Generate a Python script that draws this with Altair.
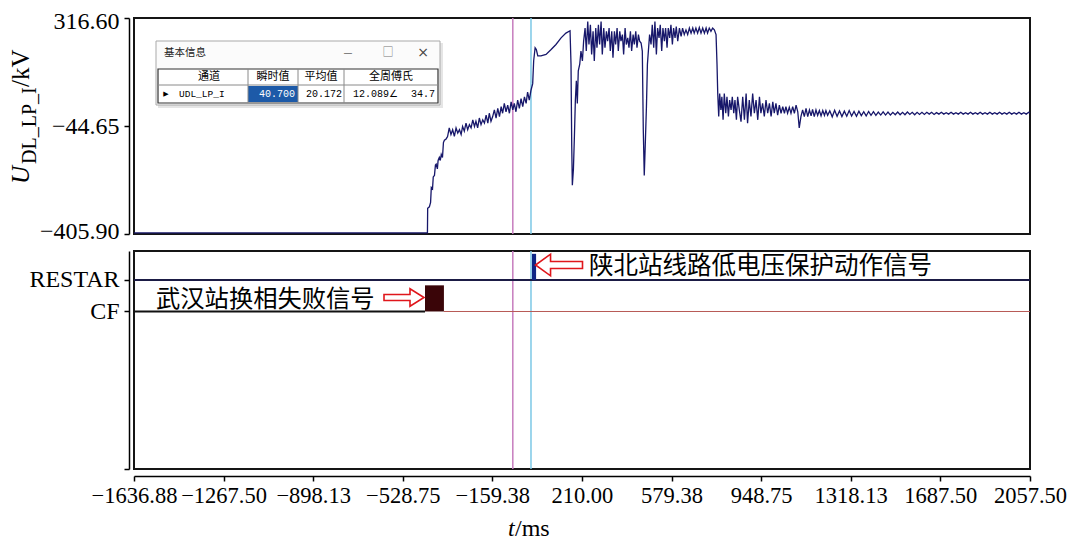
import altair as alt
import pandas as pd

# ------------------------------------------------------------------ data
T_MIN, T_MAX = -1636.88, 2057.50
X_TICKS = [-1636.88, -1267.50, -898.13, -528.75, -159.38, 210.00,
           579.38, 948.75, 1318.13, 1687.50, 2057.50]
V_MIN, V_MAX = -405.90, 316.60
Y_TICKS = [-405.90, -44.65, 316.60]

# waveform U_DL_LP_I (kV), segment by segment
PRE_T = [-1636.88, -427, -426, -419, -414, -411, -406, -403, -398, -394, -391,
         -386, -383, -378, -374, -370, -365, -361, -357, -350, -344, -337]
PRE_V = [-402, -402, -320, -315, -300, -250, -255, -215, -210, -175, -172,
         -188, -160, -150, -160, -140, -150, -100, -92, -88, -80, -51]

RISE_T = [-330, -323, -316, -309, -302, -295, -288, -282, -275, -268, -261, -254,
          -247, -240, -233, -227, -220, -213, -206, -199, -192, -185, -178, -172,
          -165, -158, -151, -144, -137, -130, -123, -117, -110, -103, -96, -89,
          -82, -75, -69, -62, -55, -48, -41, -34, -27, -20, -14, -7, 0]
RISE_V = [-73, -57, -79, -51, -68, -57, -73, -46, -62, -35, -57, -40,
          -51, -24, -46, -29, -51, -18, -40, -24, -35, -8, -35, -2,
          -29, -13, 9, -18, 14, -13, 20, -2, 31, 3, 25, -2,
          36, 9, 31, 3, 42, 14, 47, 20, 53, 31, 69, 42, 75]

DIP1_T = [7, 11, 17, 22, 28, 41, 62, 83, 103, 124, 144, 161, 165, 168, 170.5,
          175, 179, 183, 187, 191, 195, 201, 206, 212, 217, 223, 228, 234]
DIP1_V = [97, 173, 217, 211, 190, 190, 195, 211, 228, 250, 266, 274, 162, -112, -243,
          -188, -79, 42, 107, 31, 140, 162, 206, 173, 239, 283, 206, 305]

PLAT1_T = [239, 245, 250, 256, 261, 267, 272, 278, 283, 289, 294, 300, 305, 311,
           316, 322, 327, 333, 338, 344, 349, 355, 360, 366, 371, 377, 382, 388,
           393, 399, 404, 410, 415, 421, 426, 432, 437, 443, 448, 454, 459]
PLAT1_V = [228, 294, 195, 272, 173, 283, 217, 294, 228, 305, 195, 283, 217, 272,
           239, 283, 206, 272, 184, 272, 228, 283, 206, 272, 239, 261, 195, 283,
           228, 250, 217, 272, 206, 261, 228, 272, 217, 261, 239, 233, 206]

PLAT2_T = [463, 467, 471, 476, 480, 484, 489, 495, 500, 506, 511, 517, 522, 528,
           533, 539, 544, 550, 555, 561, 566, 572, 577, 583, 588, 594, 599, 605,
           612, 619, 625, 632, 639, 646, 653, 660, 667, 673, 680, 687, 694, 701,
           708, 715, 722, 728, 735, 742, 749, 756, 763]
PLAT2_V = [-57, -210, -112, 20, 162, 206, 261, 228, 294, 217, 305, 195, 283, 250,
           294, 206, 283, 239, 283, 217, 283, 250, 294, 228, 283, 250, 288, 239,
           283, 255, 283, 261, 277, 261, 283, 266, 283, 266, 283, 266, 285, 266,
           283, 266, 283, 266, 283, 272, 283, 277, 261]

DROP_T = [767, 770, 774, 778, 783, 787, 792, 797, 803, 808, 814, 819, 825, 830,
          836, 841, 847, 852, 859, 866, 873, 880, 887, 893, 900, 907, 914, 921,
          928, 935, 942, 948, 955, 962, 969, 976, 983, 990, 997, 1003, 1010, 1017,
          1024, 1031, 1038, 1045, 1051, 1058, 1065, 1072, 1079, 1086, 1093, 1100,
          1106, 1113, 1120, 1127, 1134, 1141, 1148, 1155, 1161, 1168, 1175, 1182,
          1189, 1196, 1203, 1210, 1216, 1223]
DROP_V = [162, 64, -13, 64, 9, 53, -24, 64, -2, 53, -13, 42, 9, 53,
          -2, 42, -24, 53, 9, -30, 53, -24, 64, -35, 42, -13, 64, -2,
          42, -24, 53, -2, 31, -13, 42, -2, 31, -13, 36, -2, 31, -8,
          25, -2, 20, -2, 20, -2, 18, -2, 20, -2, 25, 3,
          -51, -13, 9, -13, 14, -13, 9, -11, 11, -13, 9, -9,
          7, -11, 7, -9, 7, -9]

TAIL_T = [1232, 1242, 1252, 1262, 1272, 1282, 1292, 1302, 1312, 1322, 1332, 1342,
          1352, 1362, 1372, 1382, 1392, 1402, 1412, 1422, 1432, 1442, 1452, 1462,
          1472, 1482, 1492, 1502, 1512, 1522, 1532, 1542, 1552, 1562, 1572, 1582,
          1592, 1602, 1612, 1622, 1632, 1642, 1652, 1662, 1672, 1682, 1692, 1702,
          1712, 1722, 1732, 1742, 1752, 1762, 1772, 1782, 1792, 1802, 1812, 1822,
          1832, 1842, 1852, 1862, 1872, 1882, 1892, 1902, 1912, 1922, 1932, 1942,
          1952, 1962, 1972, 1982, 1992, 2002, 2012, 2022, 2032, 2042, 2052, 2057.5]
TAIL_V = [6, -14, 8, -12, 6, -13, 5, -12, 7, -11, 4, -12,
          5, -10, 3, -11, 4, -9, 3, -9, 2, -8, 3, -8,
          2, -8, 1, -7, 2, -7, 1, -7, 2, -6, 1, -7,
          1, -6, 1, -6, 1, -5, 1, -6, 0, -5, 1, -5,
          0, -5, 1, -5, 0, -5, 1, -5, 0, -5, 1, -5,
          0, -5, 1, -5, 0, -5, 1, -5, 0, -5, 1, -5,
          0, -5, 1, -5, 0, -5, 1, -5, 0, -5, 1, -2]

WAVE_T = PRE_T + RISE_T + DIP1_T + PLAT1_T + PLAT2_T + DROP_T + TAIL_T
WAVE_V = PRE_V + RISE_V + DIP1_V + PLAT1_V + PLAT2_V + DROP_V + TAIL_V
assert len(WAVE_T) == len(WAVE_V)

CURSOR_T = [-75.0, 0.0]

CH_RESTAR, CH_CF = 6, 5
CH_DOMAIN = [0, 6.92]
CH_TICKS = [0, 5, 6]
PULSE_HIGH = 0.83
CF_ON, CF_OFF = -437.0, -359.0
RESTAR_ON, RESTAR_OFF = 4.0, 21.0

LABEL_CF = "武汉站换相失败信号"
LABEL_RESTAR = "陕北站线路低电压保护动作信号"

INSET_TITLE = "基本信息"
INSET_HEAD = ["通道", "瞬时值", "平均值", "全周傅氏"]
INSET_CHANNEL = "UDL_LP_I"
INSET_INST = "40.700"
INSET_MEAN = "20.172"
INSET_FOURIER_MAG = "12.089∠"
INSET_FOURIER_ANG = "34.7"

# ------------------------------------------------------------------ style
SERIF = "Liberation Serif"
CJK = "Noto Sans CJK SC"
MONO = "Liberation Mono"
NAVY = "#17176a"
MAGENTA = "#c77dbe"
CYAN = "#7cc8e6"
RED = "#e0161b"

W = 896
H_TOP = 216
H_BOT = 218

wave_df = pd.DataFrame({"t": WAVE_T, "v": WAVE_V})
cursor_df = pd.DataFrame({"t": CURSOR_T, "c": ["a", "b"]})
ONE = pd.DataFrame({"k": [0]})

XS = alt.Scale(domain=[T_MIN, T_MAX], nice=False, zero=False)
YS_TOP = alt.Scale(domain=[V_MIN, V_MAX], nice=False, zero=False)
YS_BOT = alt.Scale(domain=CH_DOMAIN, nice=False, zero=False)

X_AXIS_B = alt.Axis(values=X_TICKS, format=".2f", labelOverlap=False, labelFlush=False,
                    offset=7, tickSize=5, labelPadding=3, title=None, grid=False,
                    labelFontSize=22.5)
Y_AXIS_T = alt.Axis(values=Y_TICKS, format=".2f", offset=5, tickSize=5, labelPadding=5,
                    title=None, grid=False,
                    labelOffset={"condition": [{"test": "datum.value > 300", "value": 3},
                                               {"test": "datum.value < -400", "value": -3}],
                                 "value": 0})
Y_AXIS_B = alt.Axis(values=CH_TICKS, offset=5, tickSize=5, labelPadding=5, title=None,
                    grid=False,
                    labelExpr="datum.value == 6 ? 'RESTAR' : datum.value == 5 ? 'CF' : ''")


def text_at(s, x, y, size, font=SERIF, align="left", baseline="middle", color="black",
            angle=None, style=None, weight=None):
    kw = dict(text=s, align=align, baseline=baseline, fontSize=size, font=font, color=color)
    if angle is not None:
        kw["angle"] = angle
    if style:
        kw["fontStyle"] = style
    if weight:
        kw["fontWeight"] = weight
    return alt.Chart(ONE).mark_text(**kw).encode(x=alt.value(x), y=alt.value(y))


def box(x1, y1, x2, y2, fill, stroke=None, sw=1.0, opacity=1.0):
    kw = dict(fill=fill, opacity=opacity)
    if stroke:
        kw.update(stroke=stroke, strokeWidth=sw)
    return alt.Chart(ONE).mark_rect(**kw).encode(
        x=alt.value(x1), x2=alt.value(x2), y=alt.value(y1), y2=alt.value(y2))


def seg(x1, y1, x2, y2, color, sw=1.0):
    return alt.Chart(ONE).mark_rule(color=color, strokeWidth=sw).encode(
        x=alt.value(x1), x2=alt.value(x2), y=alt.value(y1), y2=alt.value(y2))


ARROW_R = "M-1,-0.15L0.3,-0.15L0.3,-0.44L1,0L0.3,0.44L0.3,0.15L-1,0.15Z"
ARROW_L = "M1,-0.15L-0.36,-0.15L-0.36,-0.46L-1,0L-0.36,0.46L-0.36,0.15L1,0.15Z"


def arrow(path, x, y, w):
    return alt.Chart(ONE).mark_point(shape=path, size=w * w, filled=True, fill="white",
                                     stroke=RED, strokeWidth=1.6, opacity=1).encode(
        x=alt.value(x), y=alt.value(y))


# ------------------------------------------------------------------ top panel
cursors_top = alt.Chart(cursor_df).mark_rule(strokeWidth=1.5).encode(
    x=alt.X("t:Q", scale=XS, axis=None),
    color=alt.Color("c:N", scale=alt.Scale(range=[MAGENTA, CYAN]), legend=None))

wave = alt.Chart(wave_df).mark_line(color=NAVY, strokeWidth=1.3).encode(
    x=alt.X("t:Q", scale=XS, axis=None),
    y=alt.Y("v:Q", scale=YS_TOP, axis=Y_AXIS_T))

# inset dialog (screenshot of the recorder window)
inset = [
    box(24, 25, 309, 90, "#cfcfcf", opacity=0.55),
    box(22, 23, 306, 87, "#fbfbfb", stroke="#a9a9a9", sw=1),
    text_at(INSET_TITLE, 30, 35, 10.5, font=CJK, color="#222"),
    text_at("—", 214, 35, 10, font=CJK, align="center", color="#666"),
    text_at("□", 254, 35, 11, font=CJK, align="center", color="#777"),
    text_at("×", 289, 35, 14, font="DejaVu Sans", align="center", color="#444"),
    box(24, 51, 304, 85, "white", stroke="#333", sw=1.2),
    box(114, 68, 164, 84, "#1d5aa8"),
    seg(24, 67, 304, 67, "#8a8a8a", 1),
    seg(114, 51, 114, 85, "#8a8a8a", 1),
    seg(164, 51, 164, 85, "#8a8a8a", 1),
    seg(210, 51, 210, 85, "#8a8a8a", 1),
    text_at(INSET_HEAD[0], 75, 59, 11, font=CJK, align="center"),
    text_at(INSET_HEAD[1], 139, 59, 11, font=CJK, align="center"),
    text_at(INSET_HEAD[2], 187, 59, 11, font=CJK, align="center"),
    text_at(INSET_HEAD[3], 257, 59, 11, font=CJK, align="center"),
    text_at("▶", 32, 76, 7, font="DejaVu Sans", align="center"),
    text_at(INSET_CHANNEL, 45, 76, 9.5, font=MONO),
    text_at(INSET_INST, 161, 76, 10, font=MONO, align="right", color="white"),
    text_at(INSET_MEAN, 208, 76, 10, font=MONO, align="right"),
    text_at(INSET_FOURIER_MAG, 219, 76, 10, font=MONO),
    text_at(INSET_FOURIER_ANG, 301, 76, 10, font=MONO, align="right"),
]

ytitle = [
    text_at("U", -105, 166, 25, angle=270, baseline="alphabetic", style="italic"),
    text_at("DL_LP_I", -98, 146, 20, angle=270, baseline="alphabetic"),
    text_at("/kV", -105, 69, 25, angle=270, baseline="alphabetic"),
]

top = alt.layer(cursors_top, wave, *inset, *ytitle).properties(width=W, height=H_TOP)

# ------------------------------------------------------------------ bottom panel
cursors_bot = alt.Chart(cursor_df).mark_rule(strokeWidth=1.5).encode(
    x=alt.X("t:Q", scale=XS, axis=X_AXIS_B),
    color=alt.Color("c:N", scale=alt.Scale(range=[MAGENTA, CYAN]), legend=None))


def hline(t0, t1, lvl, color, sw):
    df = pd.DataFrame({"t0": [t0], "t1": [t1], "lvl": [lvl]})
    return alt.Chart(df).mark_rule(color=color, strokeWidth=sw).encode(
        x=alt.X("t0:Q", scale=XS, axis=X_AXIS_B), x2="t1:Q",
        y=alt.Y("lvl:Q", scale=YS_BOT, axis=Y_AXIS_B))


def pulse(t0, t1, lvl, color):
    df = pd.DataFrame({"t0": [t0], "t1": [t1], "lo": [lvl], "hi": [lvl + PULSE_HIGH]})
    return alt.Chart(df).mark_rect(color=color).encode(
        x=alt.X("t0:Q", scale=XS, axis=X_AXIS_B), x2="t1:Q",
        y=alt.Y("lo:Q", scale=YS_BOT, axis=Y_AXIS_B), y2="hi:Q")


restar_line = hline(T_MIN, T_MAX, CH_RESTAR, "#1b1b45", 2)
cf_line_a = hline(T_MIN, CF_ON, CH_CF, "#111111", 2)
cf_line_b = hline(CF_OFF, T_MAX, CH_CF, "#b85a55", 1)
cf_pulse = pulse(CF_ON, CF_OFF, CH_CF, "#3a0508")
restar_pulse = pulse(RESTAR_ON, RESTAR_OFF, CH_RESTAR, "#0f2585")

annots = [
    arrow(ARROW_R, 270, 46.5, 40),
    text_at(LABEL_CF, 22, 49, 24.3, font=CJK),
    arrow(ARROW_L, 425, 14, 47),
    text_at(LABEL_RESTAR, 455, 16, 24.5, font=CJK),
    text_at("t", 374, 285, 24, baseline="alphabetic", style="italic"),
    text_at("/ms", 381, 285, 24, baseline="alphabetic"),
]

bottom = alt.layer(cursors_bot, restar_line, cf_line_a, cf_line_b, cf_pulse, restar_pulse,
                   *annots).properties(width=W, height=H_BOT)

chart = (
    alt.vconcat(top, bottom, spacing=17, bounds="flush")
    .resolve_scale(x="independent", y="independent", color="independent")
    .properties(padding={"left": 0, "top": 0, "right": 0, "bottom": 0})
    .configure_view(stroke="#151515", strokeWidth=2)
    .configure_axis(labelFont=SERIF, labelFontSize=24, labelColor="black",
                    domainColor="black", domainWidth=1.5, tickColor="black",
                    tickWidth=1.5, grid=False)
)

chart.save("out.html", embed_options={"renderer": "svg", "actions": False})
